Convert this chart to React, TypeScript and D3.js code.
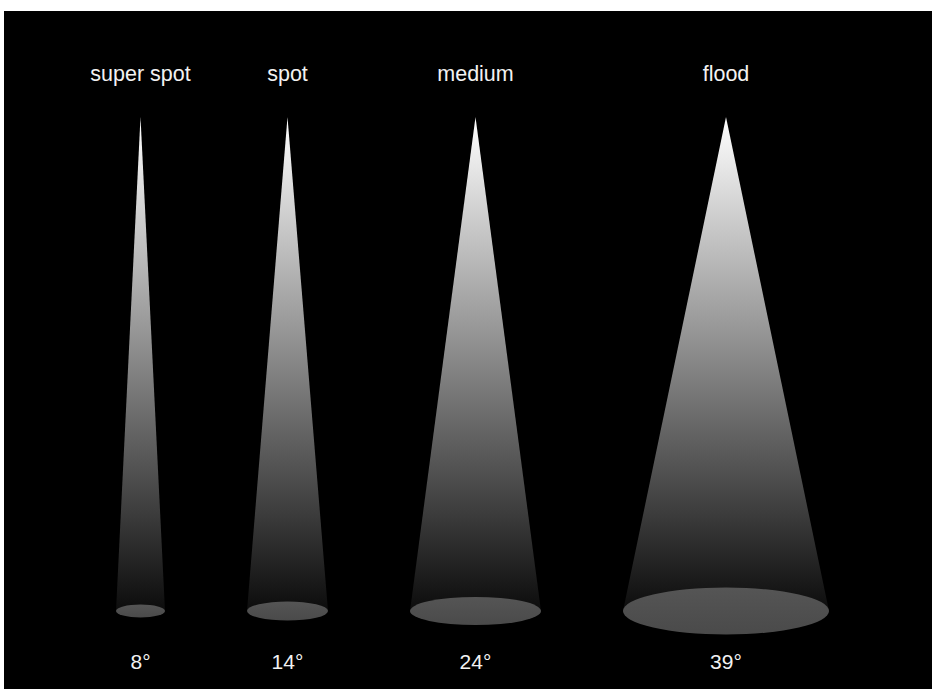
import React from "react";
import * as d3 from "d3";

const beamNames = ["super spot", "spot", "medium", "flood"];
const beamAngles = [8, 14, 24, 39];
const spotDiameters = [49, 81, 131, 206];
const spotDepths = [13, 19, 28, 47];

const W = 932;
const H = 689;
const panel = { x: 4, y: 11 };
const startX = 116;
const gap = 82;
const apexY = 117;
const baseY = 611;
const nameY = 81;
const angleY = 669;

export default function App() {
  const lefts: number[] = [];
  let acc = startX;
  spotDiameters.forEach((d) => {
    lefts.push(acc);
    acc += d + gap;
  });
  const grad = d3.scaleLinear<string>().domain([0, 1]).range(["#ffffff", "#0c0c0c"]);
  const stops = d3.range(0, 1.0001, 0.1);
  return (
    <svg
      width={W}
      height={H}
      style={{ position: "absolute", left: 0, top: 0, display: "block" }}
    >
      <defs>
        <linearGradient id="cone" gradientUnits="userSpaceOnUse" x1={0} y1={apexY} x2={0} y2={baseY}>
          {stops.map((t) => (
            <stop key={t} offset={t} stopColor={grad(t)} />
          ))}
        </linearGradient>
        <linearGradient id="spotfill" x1={0} y1={0} x2={0} y2={1}>
          <stop offset={0} stopColor="#555555" />
          <stop offset={1} stopColor="#4a4a4a" />
        </linearGradient>
      </defs>
      <rect x={panel.x} y={panel.y} width={W - panel.x} height={H - panel.y} fill="#000" />
      {beamNames.map((name, i) => {
        const rx = spotDiameters[i] / 2;
        const ry = spotDepths[i] / 2;
        const cx = lefts[i] + rx;
        const path = d3.path();
        path.moveTo(cx, apexY);
        path.lineTo(cx - rx, baseY);
        path.lineTo(cx + rx, baseY);
        path.closePath();
        return (
          <g key={name}>
            <text
              x={cx}
              y={nameY}
              textAnchor="middle"
              fill="#f2f2f2"
              fontFamily="'Liberation Sans', Arial, Helvetica, sans-serif"
              fontSize={21.5}
            >
              {name}
            </text>
            <path d={path.toString()} fill="url(#cone)" />
            <ellipse cx={cx} cy={baseY} rx={rx} ry={ry} fill="url(#spotfill)" />
            <text
              x={cx}
              y={angleY}
              textAnchor="middle"
              fill="#f2f2f2"
              fontFamily="'Liberation Sans', Arial, Helvetica, sans-serif"
              fontSize={21}
            >
              {beamAngles[i]}°
            </text>
          </g>
        );
      })}
    </svg>
  );
}
